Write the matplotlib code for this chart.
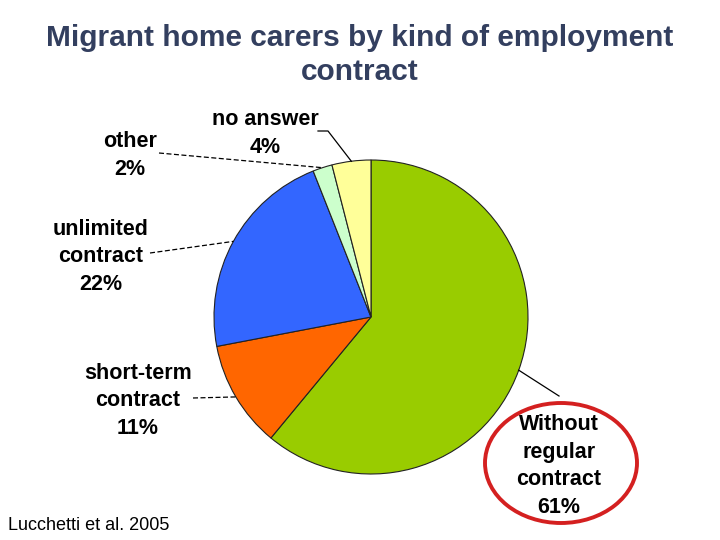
import numpy as np
import matplotlib
matplotlib.use("Agg")
import matplotlib.pyplot as plt
from matplotlib.patches import Ellipse

title = "Migrant home carers by kind of employment\ncontract"
categories = ["Without\nregular\ncontract", "short-term\ncontract", "unlimited\ncontract", "other", "no answer"]
values = [61, 11, 22, 2, 4]
colors = ["#99CC00", "#FF6600", "#3366FF", "#CCFFCC", "#FFFF99"]
source = "Lucchetti et al. 2005"

W, H = 720, 540
fig = plt.figure(figsize=(7.2, 5.4), dpi=100)
ax = fig.add_axes([0, 0, 1, 1])

def P(x, y):
    return (x, H - y)

cx, cy = P(371, 317)
R = 157
wedges, _ = ax.pie(values, colors=colors, startangle=90, counterclock=False,
                   center=(cx, cy), radius=R, frame=False,
                   wedgeprops=dict(edgecolor="#222222", linewidth=0.8))
ax.set_xlim(0, W)
ax.set_ylim(0, H)
ax.set_aspect("auto")
ax.axis("off")

fam = ["Liberation Sans", "DejaVu Sans"]
fs = 15.5
# label positions (pixel) and leader start points
label_pos = [(559, 466), (138, 401), (101, 257), (130, 155.5), (265, 133.5)]
leader_start = [[(559, 396)], [(193, 398)], [(150, 253)], [(159, 153)], [(318, 131), (328, 131)]]
dashed = [False, True, True, True, False]

for i, (w, cat, v) in enumerate(zip(wedges, categories, values)):
    lx, ly = P(*label_pos[i])
    ax.text(lx, ly, f"{cat}\n{v}%", ha="center", va="center", fontsize=fs,
            fontweight="bold", family=fam, linespacing=1.42, color="black")
    mid = np.deg2rad((w.theta1 + w.theta2) / 2)
    ex, ey = cx + R * np.cos(mid), cy + R * np.sin(mid)
    pts = [P(*p) for p in leader_start[i]] + [(ex, ey)]
    xs, ys = zip(*pts)
    ax.plot(xs, ys, color="black", lw=0.9, ls=(0, (4, 2)) if dashed[i] else "-")

ex_, ey_ = P(561, 463)
ax.add_patch(Ellipse((ex_, ey_), 152, 120, fill=False, edgecolor="#D42020", lw=2.8))

tx, ty = P(360, 55)
ax.text(tx, ty, title, ha="center", va="center", fontsize=21.5, fontweight="bold",
        family=fam, color="#333F5F", linespacing=1.25)

sx, sy = P(8, 525)
ax.text(sx, sy, source, ha="left", va="center", fontsize=13, family=fam, color="black")

fig.savefig("out.png", dpi=100, facecolor="white")
